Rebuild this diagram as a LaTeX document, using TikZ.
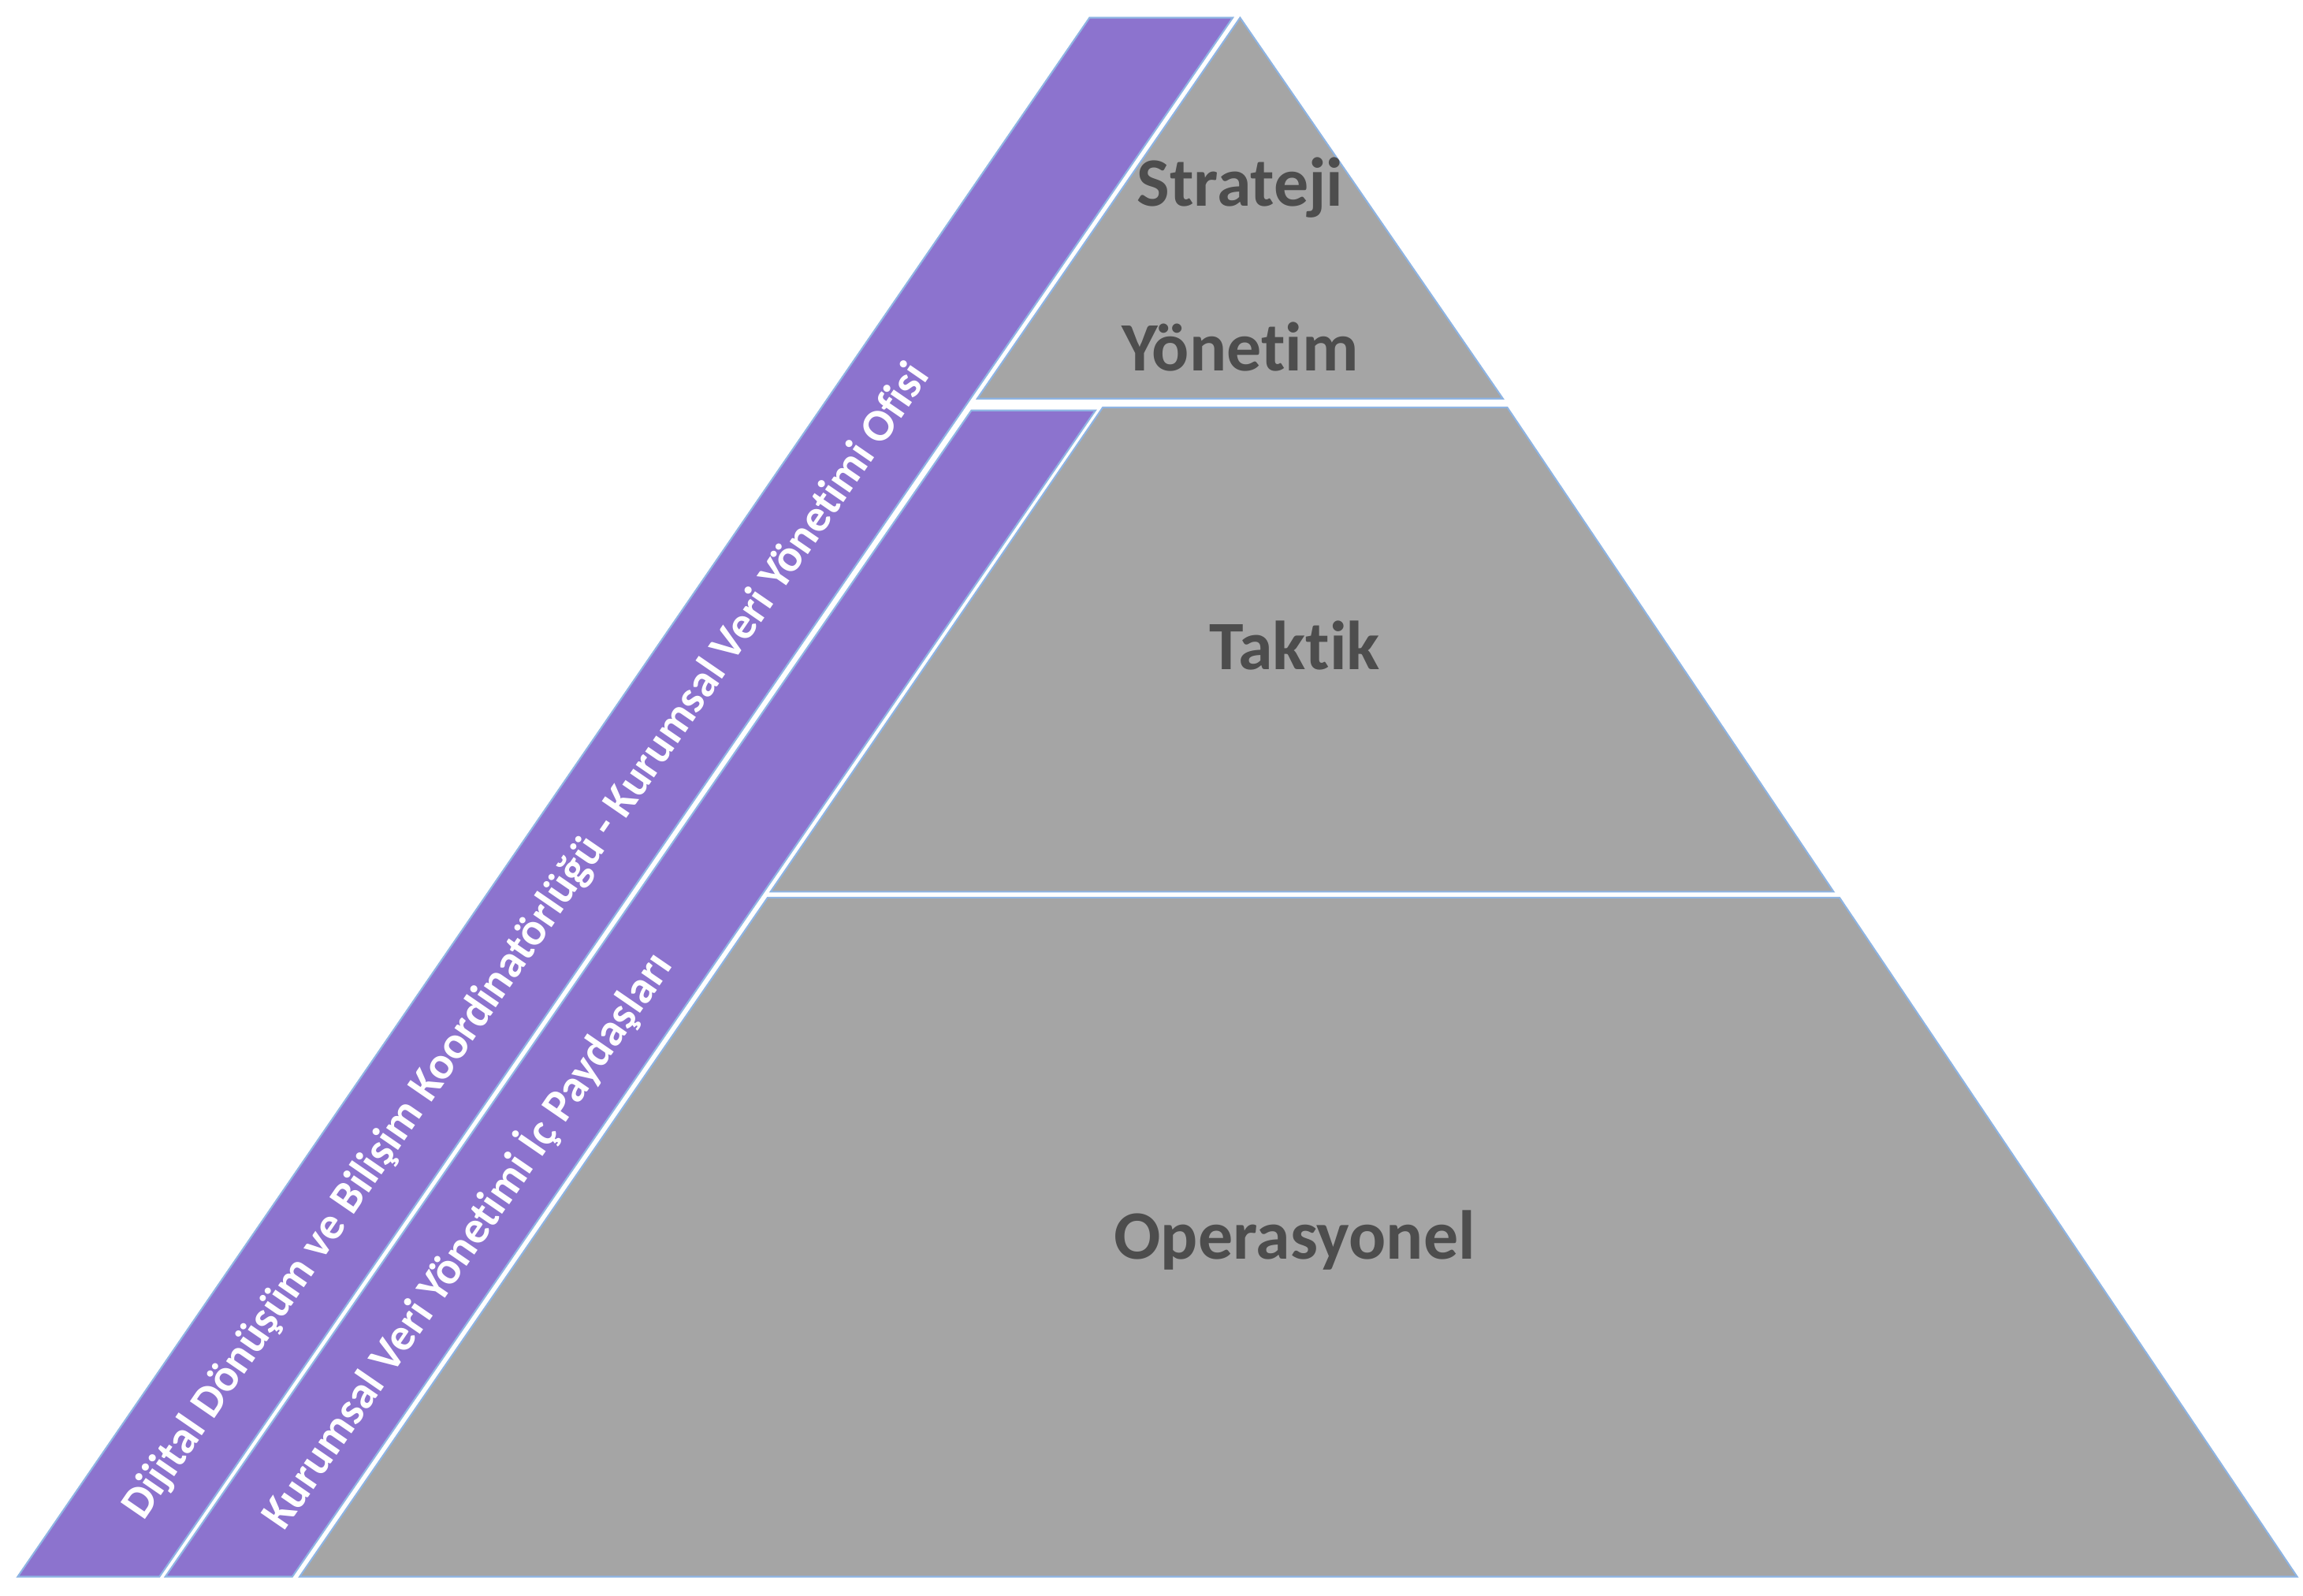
\documentclass[tikz,border=0pt]{standalone}
\usepackage{fontspec}
\setmainfont[Ligatures={NoCommon}]{Carlito}
\definecolor{bandpurple}{HTML}{8C73CE}
\definecolor{levelgray}{HTML}{A5A5A5}
\definecolor{edgeblue}{HTML}{8EB4E3}
\definecolor{labelgray}{HTML}{4D4D4D}
\tikzset{
  level/.style={fill=levelgray, draw=edgeblue, line width=0.6pt},
  band/.style={fill=bandpurple, draw=edgeblue, line width=0.6pt},
  levellabel/.style={font=\bfseries\fontsize{25}{30}\selectfont, text=labelgray},
  bandlabel/.style={font=\bfseries\fontsize{16.5}{20}\selectfont, text=white, rotate=55.5}
}
\begin{document}
\begin{tikzpicture}[x=0.01873cm, y=-0.01873cm]
  \useasboundingbox (0,0) rectangle (1560,1081);
  % pyramid levels
  \draw[level] (840,12) -- (1018,270) -- (662,270) -- cycle;
  \draw[level] (747,276) -- (1021,276) -- (1242,604) -- (522,604) -- cycle;
  \draw[level] (520,608) -- (1246,608) -- (1556,1068) -- (203,1068) -- cycle;
  % side bands
  \draw[band] (738,12) -- (835,12) -- (108,1068) -- (12,1068) -- cycle;
  \draw[band] (658,278) -- (742,278) -- (198,1068) -- (112,1068) -- cycle;
  % labels
  \node[levellabel] (strateji) at (840,127) {Strateji};
  \node[levellabel] (yonetim) at (840,235) {Yönetim};
  \node[levellabel] (taktik) at (877,437) {Taktik};
  \node[levellabel] (operasyonel) at (877,840) {Operasyonel};
  \node[bandlabel] (ofis) at (357,638) {Dijital Dönüşüm ve Bilişim Koordinatörlüğü - Kurumsal Veri Yönetimi Ofisi};
  \node[bandlabel] (paydas) at (316,840) {Kurumsal Veri Yönetimi İç Paydaşları};
\end{tikzpicture}
\end{document}
